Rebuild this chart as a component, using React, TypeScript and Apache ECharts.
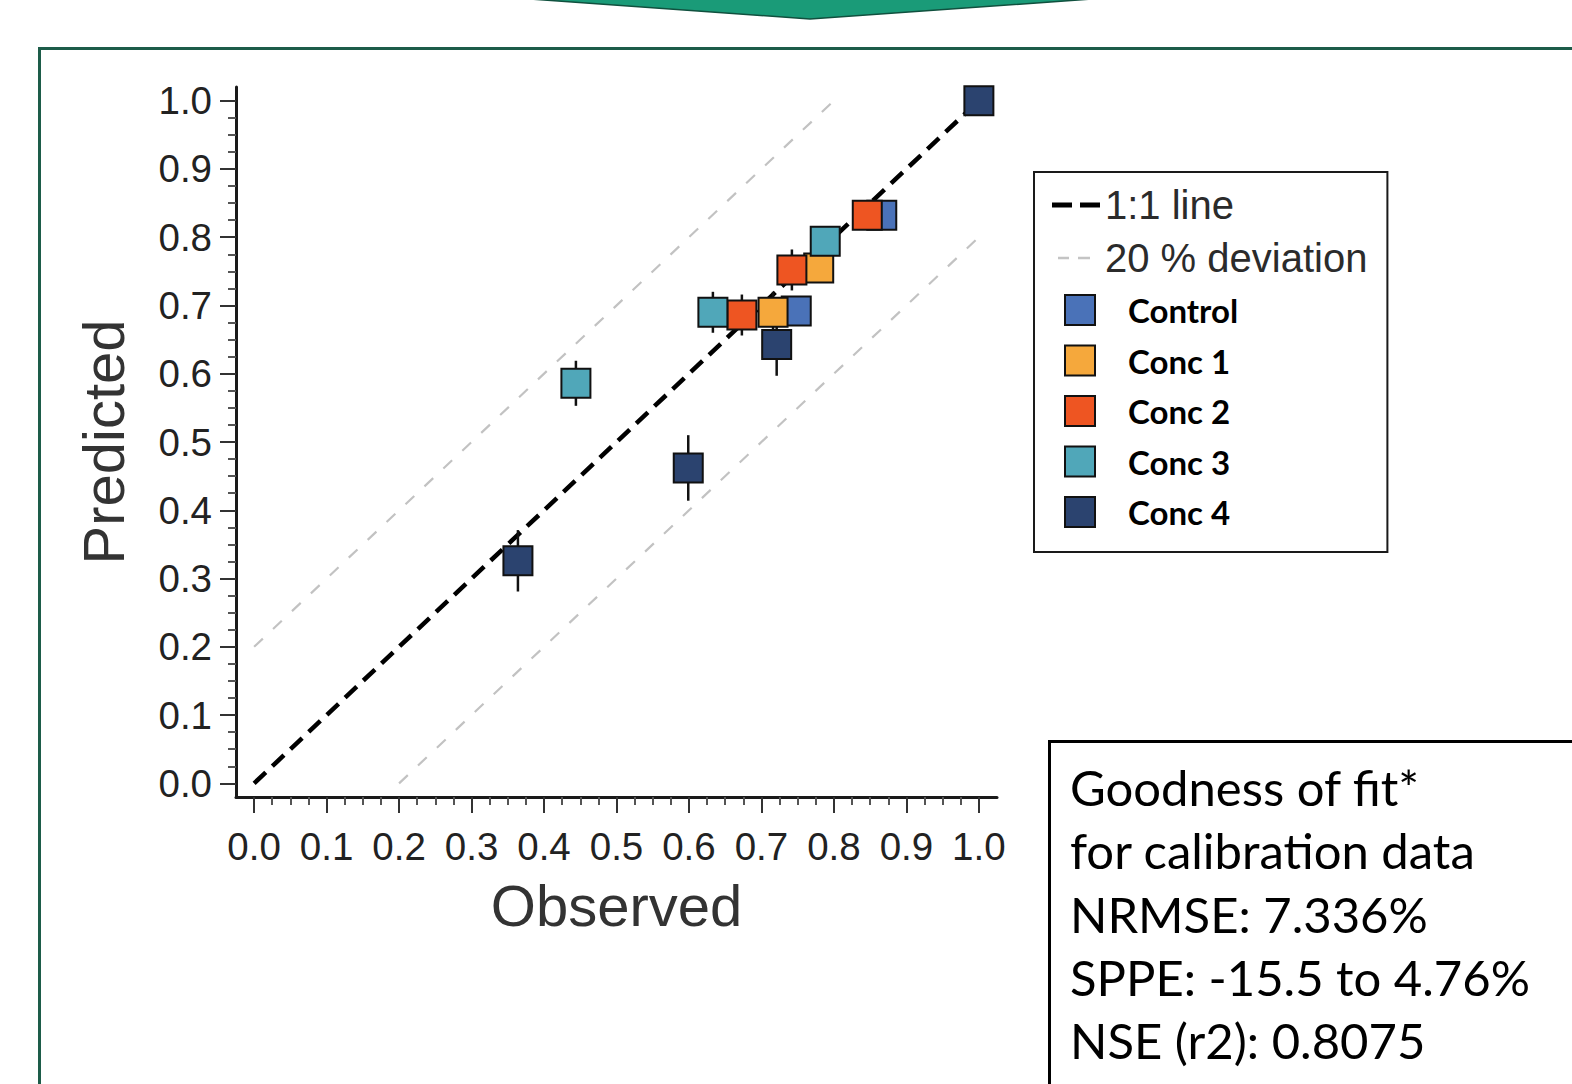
import React, { useEffect, useRef } from "react";
import * as echarts from "echarts";

// ---------- data ----------
const groupNames = ["Control", "Conc 1", "Conc 2", "Conc 3", "Conc 4"];
const groupColors = ["#4A72B8", "#F5A83C", "#EE5522", "#50A7B9", "#2B436F"];

const controlObserved = [0.748, 0.866];
const controlPredicted = [0.692, 0.832];
const controlError = [0.02, 0.02];

const conc1Observed = [0.716, 0.779];
const conc1Predicted = [0.69, 0.755];
const conc1Error = [0.03, 0.02];

const conc2Observed = [0.673, 0.742, 0.846];
const conc2Predicted = [0.686, 0.752, 0.832];
const conc2Error = [0.03, 0.03, 0.02];

const conc3Observed = [0.444, 0.633, 0.788];
const conc3Predicted = [0.586, 0.69, 0.794];
const conc3Error = [0.033, 0.03, 0.02];

const conc4Observed = [0.364, 0.599, 0.721, 1.0];
const conc4Predicted = [0.326, 0.462, 0.643, 1.0];
const conc4Error = [0.045, 0.048, 0.046, 0.0];

const oneToOneX = [0, 1];
const oneToOneY = [0, 1];
const upperDevX = [0, 0.8];
const upperDevY = [0.2, 1.0];
const lowerDevX = [0.2, 1.0];
const lowerDevY = [0, 0.8];

const majorTicks = [0, 0.1, 0.2, 0.3, 0.4, 0.5, 0.6, 0.7, 0.8, 0.9, 1.0];
const minorOffsets = [0.025, 0.05, 0.075];

const statsLines = [
  "Goodness of fit*",
  "for calibration data",
  "NRMSE: 7.336%",
  "SPPE: -15.5 to 4.76%",
  "NSE (r2): 0.8075",
];

const groupObserved = [controlObserved, conc1Observed, conc2Observed, conc3Observed, conc4Observed];
const groupPredicted = [controlPredicted, conc1Predicted, conc2Predicted, conc3Predicted, conc4Predicted];
const groupError = [controlError, conc1Error, conc2Error, conc3Error, conc4Error];

const minorTicks: number[] = [];
majorTicks.slice(0, -1).forEach((m) => minorOffsets.forEach((o) => minorTicks.push(+(m + o).toFixed(3))));

const ARIAL = '"Liberation Sans", Arial, sans-serif';

export default function App() {
  const ref = useRef<HTMLDivElement>(null);

  useEffect(() => {
    if (!ref.current) return;
    const chart = echarts.init(ref.current, null, { renderer: "svg" });

    const xMin = -0.025;
    const xMax = 1.025;
    const yMin = -0.02;
    const yMax = 1.02;

    const mainAxisCommon = {
      type: "value",
      axisLine: { show: true, onZero: false, lineStyle: { color: "#1a1a1a", width: 3 } },
      splitLine: { show: false },
      axisLabel: {
        show: true,
        customValues: majorTicks,
        formatter: (v: number) => v.toFixed(1),
        fontFamily: ARIAL,
        fontSize: 38.5,
        color: "#222",
      },
      axisTick: {
        show: true,
        customValues: majorTicks,
        length: 16,
        lineStyle: { color: "#333", width: 2 },
      },
      nameLocation: "middle",
      nameTextStyle: { fontFamily: ARIAL, fontSize: 58, color: "#333" },
    };

    const minorAxisCommon = {
      type: "value",
      axisLine: { show: false, onZero: false },
      splitLine: { show: false },
      axisLabel: { show: false },
      axisTick: {
        show: true,
        customValues: minorTicks,
        length: 8,
        lineStyle: { color: "#555", width: 2 },
      },
    };

    const series: any[] = [
      {
        name: "20 % deviation",
        type: "line",
        data: upperDevX.map((x, i) => [x, upperDevY[i]]),
        symbol: "none",
        lineStyle: { color: "#c2c2c2", width: 2.2, type: [12, 14] },
        itemStyle: { color: "#c2c2c2" },
        z: 1,
        silent: true,
      },
      {
        name: "20 % deviation",
        type: "line",
        data: lowerDevX.map((x, i) => [x, lowerDevY[i]]),
        symbol: "none",
        lineStyle: { color: "#c2c2c2", width: 2.2, type: [12, 14] },
        itemStyle: { color: "#c2c2c2" },
        z: 1,
        silent: true,
      },
      {
        name: "1:1 line",
        type: "line",
        data: oneToOneX.map((x, i) => [x, oneToOneY[i]]),
        symbol: "none",
        lineStyle: { color: "#000", width: 4.5, type: [16, 9] },
        itemStyle: { color: "#000" },
        z: 1,
        silent: true,
      },
    ];

    groupNames.forEach((name, g) => {
      series.push({
        name,
        type: "scatter",
        symbol: "rect",
        symbolSize: 29,
        data: groupObserved[g].map((x, i) => [x, groupPredicted[g][i]]),
        itemStyle: { color: groupColors[g], borderColor: "#111", borderWidth: 2, opacity: 1 },
        z: 2,
      });
      series.push({
        name: name + " error",
        type: "custom",
        data: groupObserved[g].map((x, i) => [
          x,
          groupPredicted[g][i] - groupError[g][i],
          groupPredicted[g][i] + groupError[g][i],
        ]),
        encode: { x: 0, y: [1, 2] },
        renderItem: (params: any, api: any) => {
          const p1 = api.coord([api.value(0), api.value(1)]);
          const p2 = api.coord([api.value(0), api.value(2)]);
          return {
            type: "line",
            shape: { x1: p1[0], y1: p1[1], x2: p2[0], y2: p2[1] },
            style: { stroke: "#111", lineWidth: 2.5 },
          };
        },
        z: 2,
        silent: true,
      });
    });

    const squareIcon = "path://M0,0H30V30H0Z";

    const option: any = {
      animation: false,
      backgroundColor: "#ffffff",
      grid: {
        left: 236,
        top: 87,
        width: 761,
        height: 710,
        containLabel: false,
        outerBoundsMode: "none",
      },
      xAxis: [
        {
          ...mainAxisCommon,
          min: xMin,
          max: xMax,
          position: "bottom",
          name: "Observed",
          nameGap: 79,
          axisLabel: { ...mainAxisCommon.axisLabel, margin: 30 },
        },
        { ...minorAxisCommon, min: xMin, max: xMax, position: "bottom" },
      ],
      yAxis: [
        {
          ...mainAxisCommon,
          min: yMin,
          max: yMax,
          position: "left",
          name: "Predicted",
          nameGap: 104,
          axisLabel: { ...mainAxisCommon.axisLabel, margin: 24 },
        },
        { ...minorAxisCommon, min: yMin, max: yMax, position: "left" },
      ],
      legend: [
        {
          orient: "vertical",
          left: 1034,
          top: 172,
          padding: [13, 20, 274, 18],
          itemWidth: 48,
          itemHeight: 30,
          itemGap: 13,
          align: "left",
          backgroundColor: "#ffffff",
          borderColor: "#1a1a1a",
          borderWidth: 2,
          borderRadius: 0,
          selectedMode: false,
          z: 4,
          textStyle: { fontFamily: ARIAL, fontSize: 40, color: "#2b2b2b" },
          data: [
            {
              name: "1:1 line",
              icon: "path://M0,0H20V5H0Z M28,0H48V5H28Z",
              itemStyle: { color: "#000", borderWidth: 0 },
            },
            {
              name: "20 % deviation",
              icon: "path://M0,0H0.05V0.05H0Z M6,0H17V2.5H6Z M26,0H38V2.5H26Z M47.95,0H48V0.05H47.95Z",
              itemStyle: { color: "#c4c4c4", borderWidth: 0 },
            },
          ],
        },
        {
          orient: "vertical",
          left: 1046,
          top: 293.5,
          padding: [0, 0, 0, 18],
          itemWidth: 48,
          itemHeight: 30,
          itemGap: 17.5,
          align: "left",
          selectedMode: false,
          z: 5,
          textStyle: {
            fontFamily: "Lato, 'Open Sans', sans-serif",
            fontWeight: "bold",
            fontSize: 33,
            color: "#000",
            padding: [0, 0, 0, 19],
          },
          data: groupNames.map((n, i) => ({
            name: n,
            icon: squareIcon,
            itemStyle: { color: groupColors[i], borderColor: "#111", borderWidth: 2 },
          })),
        },
      ],
      graphic: [
        {
          type: "polygon",
          z: 10,
          shape: { points: [[530, -1], [1092, -1], [810, 19]] },
          style: { fill: "#1A9B78", stroke: "#10503E", lineWidth: 1.5 },
        },
        {
          type: "rect",
          z: -10,
          shape: { x: 39.5, y: 48.5, width: 1600, height: 1100 },
          style: { fill: "none", stroke: "#1D5C49", lineWidth: 3 },
        },
        {
          type: "rect",
          z: 10,
          shape: { x: 1049.5, y: 741.5, width: 600, height: 400 },
          style: { fill: "#ffffff", stroke: "#000", lineWidth: 3 },
        },
        ...statsLines.map((t, i) => ({
          type: "text",
          z: 11,
          x: 1070,
          y: 787 + i * 63.3,
          style: {
            text: t,
            fill: "#000",
            font: "49px Lato, 'Open Sans', sans-serif",
            verticalAlign: "middle",
            align: "left",
          },
        })),
      ],
      series,
    };

    chart.setOption(option);
    return () => chart.dispose();
  }, []);

  return (
    <div
      ref={ref}
      style={{ position: "fixed", left: 0, top: 0, width: 1572, height: 1084, background: "#fff" }}
    />
  );
}
